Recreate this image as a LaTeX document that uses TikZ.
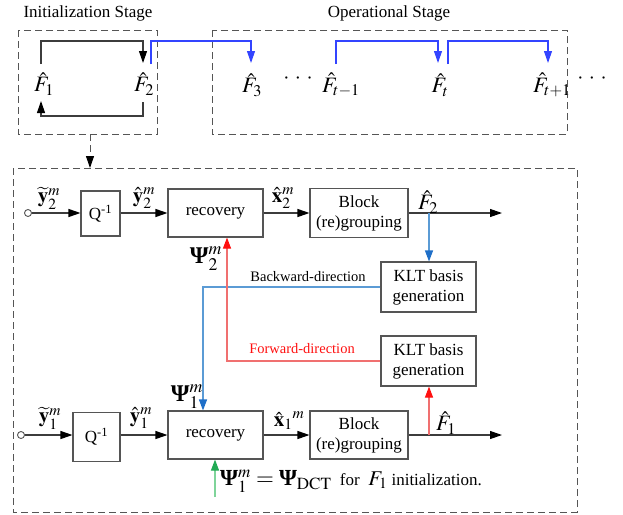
\documentclass[tikz,border=0pt]{standalone}
\usepackage{mathptmx}
\usepackage{fontspec}
\setmainfont{Liberation Serif}
\usetikzlibrary{arrows.meta,calc}
\newcommand\bPsi{\mbox{\bfseries Ψ}}
\definecolor{boxgray}{HTML}{555555}
\definecolor{dashgray}{HTML}{555555}
\definecolor{topblue}{HTML}{3344FF}
\definecolor{bline}{HTML}{5B9BD5}
\definecolor{btip}{HTML}{1F6FC8}
\definecolor{rline}{HTML}{F07070}
\definecolor{rtip}{HTML}{FF1010}
\definecolor{gline}{HTML}{7FD49A}
\definecolor{gtip}{HTML}{22AA55}
\tikzset{
 blk/.style={draw=boxgray, line width=1.1pt, inner sep=0pt, align=center, font=\fontsize{17}{20}\selectfont},
 dbox/.style={draw=dashgray, line width=1pt, dash pattern=on 7pt off 4pt},
 sig/.style={draw=boxgray!70!black, line width=1.1pt},
 arr/.style={sig, -{Triangle[length=12pt,width=8pt,color=black]}},
 toparr/.style={draw=topblue, line width=1.1pt, -{Triangle[length=12pt,width=8pt,color=topblue]}},
 barr/.style={draw=bline, line width=1.1pt, -{Triangle[length=11pt,width=8pt,color=btip]}},
 rarr/.style={draw=rline, line width=1.1pt, -{Triangle[length=11pt,width=8pt,color=rtip]}},
 garr/.style={draw=gline, line width=1.1pt, -{Triangle[length=11pt,width=8pt,color=gtip]}},
 ttl/.style={font=\fontsize{17}{20}\selectfont, inner sep=0pt},
 flab/.style={font=\fontsize{22}{26}\selectfont, inner sep=0pt},
 mlab/.style={font=\fontsize{21}{25}\selectfont, inner sep=0pt},
 plab/.style={font=\fontsize{24}{28}\selectfont, inner sep=0pt},
 dlab/.style={font=\fontsize{14.5}{17}\selectfont, inner sep=0pt},
 dots/.style={font=\fontsize{22}{26}\selectfont, inner sep=0pt},
 term/.style={circle, draw=boxgray, line width=0.9pt, minimum size=7pt, inner sep=0pt, fill=white},
}
\begin{document}
\begin{tikzpicture}[x=1pt,y=-1pt]
\useasboundingbox (0,0) rectangle (623,514);
% ---------- top ----------
\node[ttl] (tinit) at (88,13) {Initialization Stage};
\node[ttl] (top) at (389,13) {Operational Stage};
\draw[dbox] (18,30) rectangle (157,134);
\draw[dbox] (212,30) rectangle (567,134);
\node[flab] (f1) at (44,84) {$\hat{F}_1$};
\node[flab] (f2) at (144,84) {$\hat{F}_2$};
\node[flab] (f3) at (252,85) {$\hat{F}_3$};
\node[dots] (d1) at (298,79) {$\cdot\,\cdot\,\cdot$};
\node[flab] (ftm) at (341,85) {$\hat{F}_{t-1}$};
\node[flab] (ft) at (440,85) {$\hat{F}_t$};
\node[flab] (ftp) at (552,85) {$\hat{F}_{t+1}$};
\node[dots] (d2) at (592,79) {$\cdot\,\cdot\,\cdot$};
\coordinate (a1) at (41,64);
\coordinate (a2) at (143,63);
\coordinate (b1) at (143,102);
\coordinate (b2) at (41,101);
\draw[arr] (a1) |- (143,41) -- (a2);
\draw[arr] (b1) |- (41,116) -- (b2);
\coordinate (c1) at (151,64);
\coordinate (c2) at (251,63);
\draw[toparr] (c1) |- (251,41) -- (c2);
\coordinate (c3) at (336,64);
\coordinate (c4) at (438,63);
\draw[toparr] (c3) |- (438,41) -- (c4);
\coordinate (c5) at (448,64);
\coordinate (c6) at (548,63);
\draw[toparr] (c5) |- (548,41) -- (c6);
% dashed link
\coordinate (l1) at (90,134);
\coordinate (l2) at (90,168);
\draw[dbox, -{Triangle[length=12pt,width=8pt,color=black]}] (l1) -- (l2);
\draw[dbox] (13,168) rectangle (577,512);
% ---------- row 2 ----------
\node[term] (in2) at (28,213) {};
\node[blk, minimum width=39pt, minimum height=45pt] (q2) at (100.5,213.5) {Q\textsuperscript{-1}};
\node[blk, minimum width=95pt, minimum height=48pt] (rec2) at (215.5,213) {recovery};
\node[blk, minimum width=98pt, minimum height=49pt] (blk2) at (359,213) {Block\\(re)grouping};
\node[blk, minimum width=95pt, minimum height=50pt] (klt2) at (428.5,287) {KLT basis\\generation};
\coordinate (o2) at (502,213);
\coordinate (j2) at (429,213);
\draw[arr] (in2) -- (q2.west|-in2);
\draw[arr] (q2.east|-in2) -- (rec2.west);
\draw[arr] (rec2.east) -- (blk2.west);
\draw[arr] (blk2.east) -- (o2);
\draw[barr] (j2) -- (klt2.north-|j2);
\node[mlab] (ly2t) at (49,198) {$\widetilde{\mathbf{y}}_2^m$};
\node[mlab] (ly2h) at (144,198) {$\hat{\mathbf{y}}_2^m$};
\node[mlab] (lx2h) at (283,198) {$\hat{\mathbf{x}}_2^m$};
\node[flab] (lf2) at (428,202) {$\hat{F}_2$};
\node[plab] (lp2) at (206,259) {$\bPsi_2^m$};
% ---------- row 1 ----------
\node[term] (in1) at (21,435) {};
\node[blk, minimum width=47pt, minimum height=49pt] (q1) at (96.5,437) {Q\textsuperscript{-1}};
\node[blk, minimum width=95pt, minimum height=48pt] (rec1) at (215.5,435) {recovery};
\node[blk, minimum width=98pt, minimum height=48pt] (blk1) at (359,435) {Block\\(re)grouping};
\node[blk, minimum width=95pt, minimum height=50pt] (klt1) at (428.5,361) {KLT basis\\generation};
\coordinate (o1) at (502,435);
\coordinate (j1) at (429,435);
\draw[arr] (in1) -- (q1.west|-in1);
\draw[arr] (q1.east|-in1) -- (rec1.west);
\draw[arr] (rec1.east) -- (blk1.west);
\draw[arr] (blk1.east) -- (o1);
\draw[rarr] (j1) -- (klt1.south-|j1);
\node[mlab] (ly1t) at (50,418) {$\widetilde{\mathbf{y}}_1^m$};
\node[mlab] (ly1h) at (141,418) {$\hat{\mathbf{y}}_1^m$};
\node[mlab] (lx1h) at (289,421) {$\hat{\mathbf{x}}_1{}^m$};
\node[flab] (lf1) at (446,423) {$\hat{F}_1$};
\node[plab] (lp1) at (187,397) {$\bPsi_1^m$};
% ---------- feedback ----------
\draw[barr] (klt2.west) -| ([xshift=-12.5pt]rec1.north);
\draw[rarr] (klt1.west) -| ([xshift=11.5pt]rec2.south);
\node[dlab] (bd) at (308,277) {Backward-direction};
\node[dlab, text=rtip] (fd) at (302,349) {Forward-direction};
\coordinate (g0) at (215,497);
\draw[garr] (g0) -- (rec1.south-|g0);
\node[anchor=west, inner sep=0pt, font=\fontsize{17}{20}\selectfont] (dct) at (220,481)
  {{\fontsize{23}{27}\selectfont$\bPsi_1^m=\bPsi_{\mathrm{DCT}}$}\ \ for\ \ {\fontsize{21}{25}\selectfont$F_1$}\ initialization.};
\end{tikzpicture}
\end{document}
